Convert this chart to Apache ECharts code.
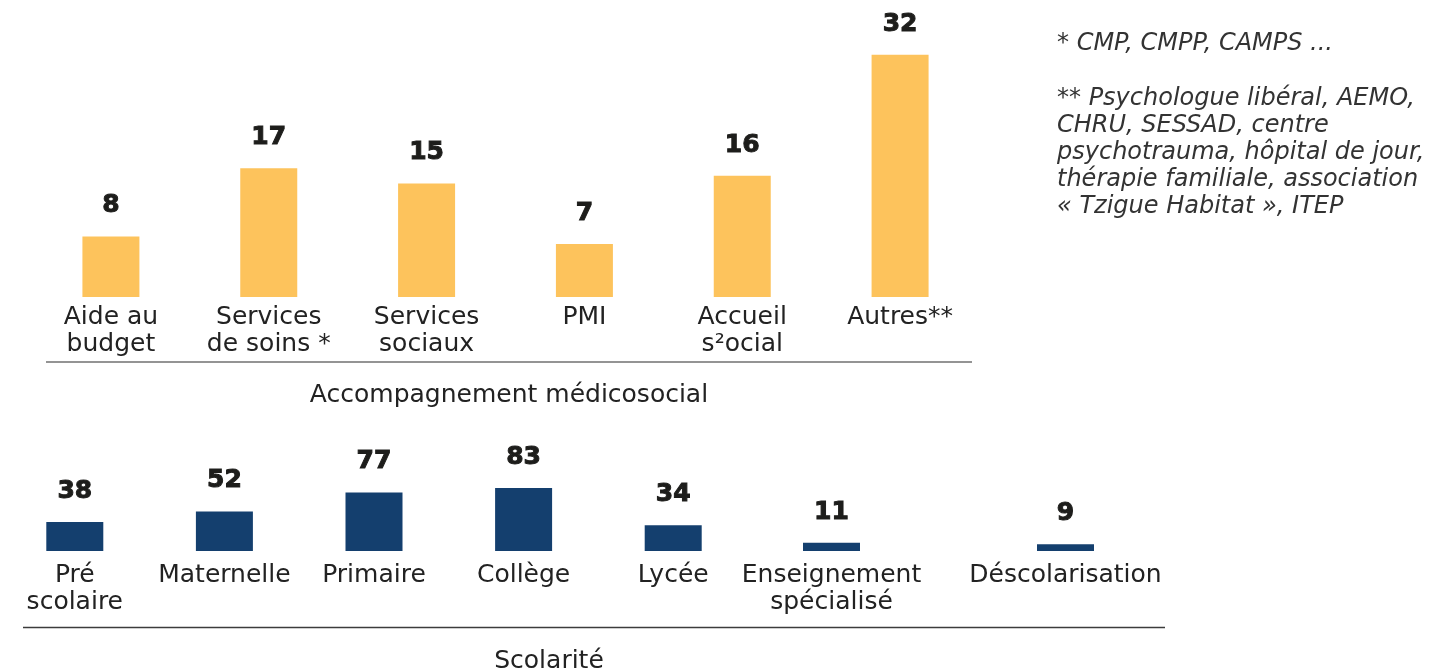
<!DOCTYPE html>
<html>
<head>
<meta charset="utf-8">
<script src="https://cdn.jsdelivr.net/npm/echarts@6/dist/echarts.min.js"></script>
<style>
  html, body { margin: 0; padding: 0; background: #fff; }
  #chart { width: 1443px; height: 670px; }
</style>
</head>
<body>
<div id="chart"></div>
<script>
// Accompagnement médicosocial
const medicoCategories = ['Aide au\nbudget', 'Services\nde soins *', 'Services\nsociaux', 'PMI', 'Accueil\ns²ocial', 'Autres**']
const medicoValues = [8, 17, 15, 7, 16, 32]

// Scolarité
const scolariteCategories = ['Pré\nscolaire', 'Maternelle', 'Primaire', 'Collège', 'Lycée', 'Enseignement\nspécialisé', 'Déscolarisation']
const scolariteValues = [38, 52, 77, 83, 34, 11, 9]

const noteSoins = '* CMP, CMPP, CAMPS ...'
const noteAutres = '** Psychologue libéral, AEMO,\nCHRU, SESSAD, centre\npsychotrauma, hôpital de jour,\nthérapie familiale, association\n« Tzigue Habitat », ITEP'

const FONT = '"DejaVu Sans", sans-serif'
const YELLOW = '#FDC35C'
const NAVY = '#143F6E'

// les deux derniers postes de scolarité sont plus espacés (libellés longs)
const splitAt = 5

const valueLabel = {
  show: true,
  position: 'top',
  distance: 18,
  fontFamily: FONT,
  fontSize: 25,
  fontWeight: 'bold',
  color: '#1d1d1b',
  // épaissir le chiffre (police très grasse dans l'original)
  textBorderColor: '#1d1d1b',
  textBorderWidth: 1
}

const catAxis = (gridIndex, data, margin) => ({
  type: 'category',
  gridIndex,
  data,
  axisLine: { show: false },
  axisTick: { show: false },
  axisLabel: {
    interval: 0,
    margin,
    fontFamily: FONT,
    fontSize: 25,
    lineHeight: 27,
    color: '#222'
  }
})

const valAxis = (gridIndex, max) => ({
  type: 'value',
  gridIndex,
  min: 0,
  max,
  show: false
})

const myChart = echarts.init(document.getElementById('chart'))

myChart.setOption({
  animation: false,
  grid: [
    { left: 32, width: 947, top: 32, height: 265 },
    { left: -2, width: 750, top: 475, height: 76 },
    { left: 714.5, width: 468, top: 475, height: 76 }
  ],
  xAxis: [
    catAxis(0, medicoCategories, 7),
    catAxis(1, scolariteCategories.slice(0, splitAt), 11),
    catAxis(2, scolariteCategories.slice(splitAt), 11)
  ],
  yAxis: [valAxis(0, 35), valAxis(1, 100), valAxis(2, 100)],
  series: [
    {
      type: 'bar',
      xAxisIndex: 0,
      yAxisIndex: 0,
      barWidth: 57,
      itemStyle: { color: YELLOW },
      label: valueLabel,
      data: medicoValues
    },
    {
      type: 'bar',
      xAxisIndex: 1,
      yAxisIndex: 1,
      barWidth: 57,
      itemStyle: { color: NAVY },
      label: valueLabel,
      data: scolariteValues.slice(0, splitAt)
    },
    {
      type: 'bar',
      xAxisIndex: 2,
      yAxisIndex: 2,
      barWidth: 57,
      itemStyle: { color: NAVY },
      label: valueLabel,
      data: scolariteValues.slice(splitAt)
    }
  ],
  graphic: [
    {
      type: 'line',
      shape: { x1: 46, y1: 362, x2: 972, y2: 362 },
      style: { stroke: '#707070', lineWidth: 1.5 }
    },
    {
      type: 'line',
      shape: { x1: 23, y1: 627.5, x2: 1165, y2: 627.5 },
      style: { stroke: '#3c3c3c', lineWidth: 1.5 }
    },
    {
      type: 'text',
      x: 509,
      y: 395,
      style: {
        text: 'Accompagnement médicosocial',
        font: '25px ' + FONT,
        fill: '#222',
        textAlign: 'center',
        textVerticalAlign: 'middle'
      }
    },
    {
      type: 'text',
      x: 549,
      y: 661,
      style: {
        text: 'Scolarité',
        font: '25px ' + FONT,
        fill: '#222',
        textAlign: 'center',
        textVerticalAlign: 'middle'
      }
    },
    {
      type: 'text',
      x: 1057,
      y: 44,
      style: {
        text: noteSoins,
        font: 'italic 24px ' + FONT,
        fill: '#333',
        textAlign: 'left',
        textVerticalAlign: 'middle'
      }
    },
    {
      type: 'text',
      x: 1057,
      y: 85,
      style: {
        text: noteAutres,
        font: 'italic 24px ' + FONT,
        lineHeight: 27,
        fill: '#333',
        textAlign: 'left',
        textVerticalAlign: 'top'
      }
    }
  ]
})

window.addEventListener('resize', () => {
  myChart && myChart.resize()
})
</script>
</body>
</html>
